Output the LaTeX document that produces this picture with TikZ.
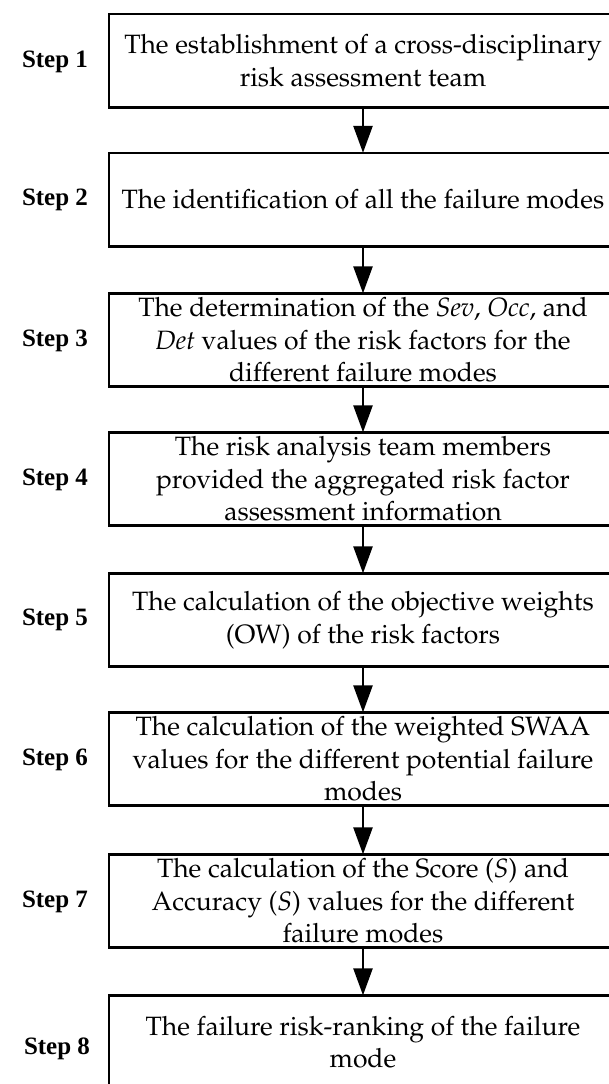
\documentclass[tikz,border=0pt]{standalone}
\usepackage[T1]{fontenc}
\usepackage{fontspec}
\usepackage{xcolor}
\usetikzlibrary{arrows.meta}
\newfontfamily\steplabelfont{Liberation Serif}
\newcommand\stepboxfont{\fontencoding{T1}\fontfamily{ppl}\fontsize{26.5}{32.5}\selectfont}

\tikzset{
  stepbox/.style={minimum width=508pt,minimum height=93pt,
    inner sep=0pt,align=center,font=\stepboxfont},
  stepframe/.style={line width=2.6pt},
  steplabel/.style={font=\steplabelfont\fontsize{25}{30}\selectfont\bfseries},
  flowarrow/.style={line width=2.6pt,-{Triangle[width=19pt,length=27pt]}}
}

\begin{document}
\begin{tikzpicture}[x=1pt,y=-1pt]
\path[use as bounding box] (0,0) rectangle (609,1084);
% steps
\node[stepbox] (s1) at (363,60.5) {The establishment of a cross-disciplinary\\risk assessment team};
\node[stepbox] (s2) at (363,199.5) {The identification of all the failure modes};
\node[stepbox] (s3) at (363,340) {The determination of the \textit{Sev}, \textit{Occ}, and\\\textit{Det} values of the risk factors for the\\different failure modes};
\node[stepbox] (s4) at (363,479) {The risk analysis team members\\provided the aggregated risk factor\\assessment information};
\node[stepbox] (s5) at (363,620) {The calculation of the objective weights\\(OW) of the risk factors};
\node[stepbox] (s6) at (363,759) {The calculation of the weighted SWAA\\values for the different potential failure\\modes};
\node[stepbox] (s7) at (363,901) {The calculation of the Score (\textit{S}) and\\Accuracy (\textit{S}) values for the different\\failure modes};
\node[stepbox] (s8) at (363,1042) {The failure risk-ranking of the failure\\mode};
% frames run off the right edge
\foreach \s in {s1,s2,s3,s4,s5,s6,s7,s8}
  \draw[stepframe] (\s.north west) rectangle ([xshift=40pt]\s.south east);
% labels
\node[steplabel] (l1) at (55,62) {Step 1};
\node[steplabel] (l2) at (55,200) {Step 2};
\node[steplabel] (l3) at (55,341) {Step 3};
\node[steplabel] (l4) at (55,480) {Step 4};
\node[steplabel] (l5) at (55,620) {Step 5};
\node[steplabel] (l6) at (55,760) {Step 6};
\node[steplabel] (l7) at (55,902) {Step 7};
\node[steplabel] (l8) at (57,1049) {Step 8};
% arrows
\draw[flowarrow] (s1) -- (s2);
\draw[flowarrow] (s2) -- (s3);
\draw[flowarrow] (s3) -- (s4);
\draw[flowarrow] (s4) -- (s5);
\draw[flowarrow] (s5) -- (s6);
\draw[flowarrow] (s6) -- (s7);
\draw[flowarrow] (s7) -- (s8);
\end{tikzpicture}
\end{document}
